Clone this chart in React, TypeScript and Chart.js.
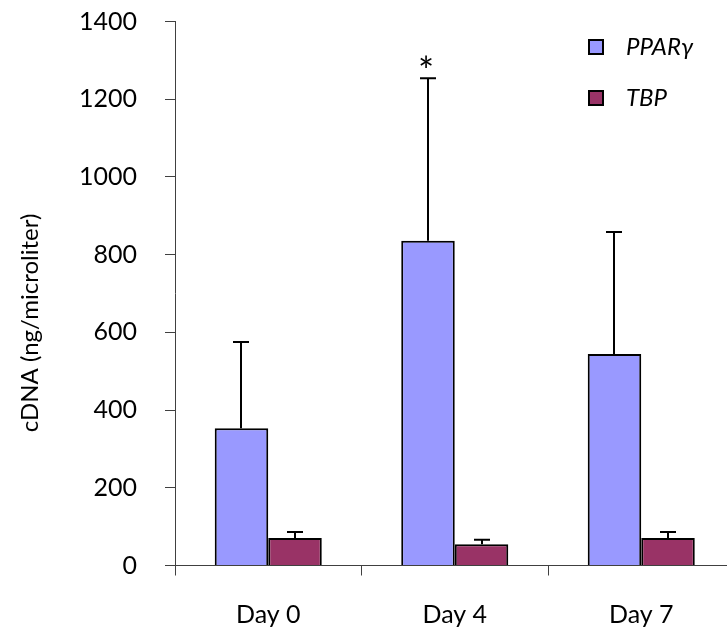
import React, { useEffect, useRef } from 'react';
import { Chart, registerables } from 'chart.js';

Chart.register(...registerables);

// Expression levels (ng/microliter) at each time point, with standard deviations
const days = ['Day 0', 'Day 4', 'Day 7'];
const pparMeans = [353, 836, 544];
const pparSd = [222, 418, 314];
const tbpMeans = [71, 55, 71];
const tbpSd = [15, 11, 15];
// significance markers placed above the PPARγ error bars
const pparMarks = ['', '*', ''];
const yTitle = 'cDNA (ng/microliter)';

const FONT = 'Lato, "Open Sans", sans-serif';
const AXIS_COLOR = '#404040';

// Upward error bars with caps, plus optional text markers above them
const errorBarPlugin = {
  id: 'errorBars',
  afterDatasetsDraw(chart: any) {
    const { ctx } = chart;
    const yScale = chart.scales.y;
    chart.data.datasets.forEach((ds: any, di: number) => {
      const meta = chart.getDatasetMeta(di);
      meta.data.forEach((bar: any, i: number) => {
        const top = yScale.getPixelForValue(ds.data[i] + ds.errors[i]);
        const x = Math.round(bar.x);
        ctx.save();
        ctx.strokeStyle = '#000';
        ctx.lineWidth = 2;
        ctx.beginPath();
        ctx.moveTo(x, bar.y);
        ctx.lineTo(x, top);
        ctx.moveTo(x - 8, top);
        ctx.lineTo(x + 8, top);
        ctx.stroke();
        const mark = ds.marks ? ds.marks[i] : '';
        if (mark) {
          ctx.fillStyle = '#000';
          ctx.font = `38px ${FONT}`;
          ctx.textAlign = 'center';
          ctx.textBaseline = 'alphabetic';
          ctx.fillText(mark, x - 2, top + 7);
        }
        ctx.restore();
      });
    });
  },
};

// Legend in the upper right corner and the rotated y-axis title
const decorPlugin = {
  id: 'decor',
  afterDraw(chart: any) {
    const { ctx } = chart;
    ctx.save();
    chart.data.datasets.forEach((ds: any, i: number) => {
      const cy = 47 + i * 51;
      ctx.fillStyle = ds.backgroundColor;
      ctx.fillRect(588, cy - 8, 16, 16);
      ctx.strokeStyle = '#000';
      ctx.lineWidth = 2;
      ctx.strokeRect(589, cy - 7, 14, 14);
      ctx.fillStyle = '#000';
      ctx.font = `italic 24px ${FONT}`;
      ctx.textAlign = 'left';
      ctx.textBaseline = 'middle';
      ctx.fillText(ds.label, 626, cy);
    });
    ctx.translate(30, 323);
    ctx.rotate(-Math.PI / 2);
    ctx.font = `24px ${FONT}`;
    ctx.textAlign = 'center';
    ctx.textBaseline = 'middle';
    ctx.fillStyle = '#000';
    ctx.fillText(yTitle, 0, 0);
    ctx.restore();
  },
};

export default function App() {
  const canvasRef = useRef<HTMLCanvasElement | null>(null);

  useEffect(() => {
    if (!canvasRef.current) return;
    const chart = new Chart(canvasRef.current, {
      type: 'bar',
      data: {
        labels: days,
        datasets: [
          {
            label: 'PPARγ',
            data: pparMeans,
            errors: pparSd,
            marks: pparMarks,
            backgroundColor: '#9999FF',
            borderColor: '#000',
            borderWidth: 2,
            categoryPercentage: 0.574,
            barPercentage: 1,
          } as any,
          {
            label: 'TBP',
            data: tbpMeans,
            errors: tbpSd,
            backgroundColor: '#993366',
            borderColor: '#000',
            borderWidth: 2,
            categoryPercentage: 0.574,
            barPercentage: 1,
          } as any,
        ],
      },
      options: {
        animation: false,
        responsive: false,
        layout: { padding: { left: 0, right: 25.5, top: 21.5, bottom: 0 } },
        plugins: {
          legend: { display: false },
          tooltip: { enabled: false },
        },
        scales: {
          x: {
            grid: {
              offset: true,
              drawOnChartArea: false,
              drawTicks: true,
              tickLength: 10,
              color: AXIS_COLOR,
            },
            border: { display: true, color: AXIS_COLOR, width: 1 },
            ticks: { color: '#000', font: { family: FONT, size: 25 }, padding: 24 },
            afterFit(scale: any) {
              scale.height = 63.5;
            },
          },
          y: {
            min: 0,
            max: 1400,
            ticks: {
              stepSize: 200,
              color: '#000',
              font: { family: FONT, size: 25 },
              padding: 28,
              callback: (v: any) => String(v),
            },
            grid: {
              drawOnChartArea: false,
              drawTicks: true,
              tickLength: 10,
              color: AXIS_COLOR,
            },
            border: { display: true, color: AXIS_COLOR, width: 1 },
            afterFit(scale: any) {
              scale.width = 175;
              scale.paddingTop = 0;
              scale.paddingBottom = 0;
            },
          },
        },
      },
      plugins: [errorBarPlugin, decorPlugin],
    });
    return () => chart.destroy();
  }, []);

  return (
    <div
      style={{
        position: 'fixed',
        left: 0,
        top: 0,
        width: 727,
        height: 629,
        overflow: 'hidden',
        background: '#fff',
      }}
    >
      <canvas ref={canvasRef} width={760} height={629} style={{ display: 'block' }} />
    </div>
  );
}
